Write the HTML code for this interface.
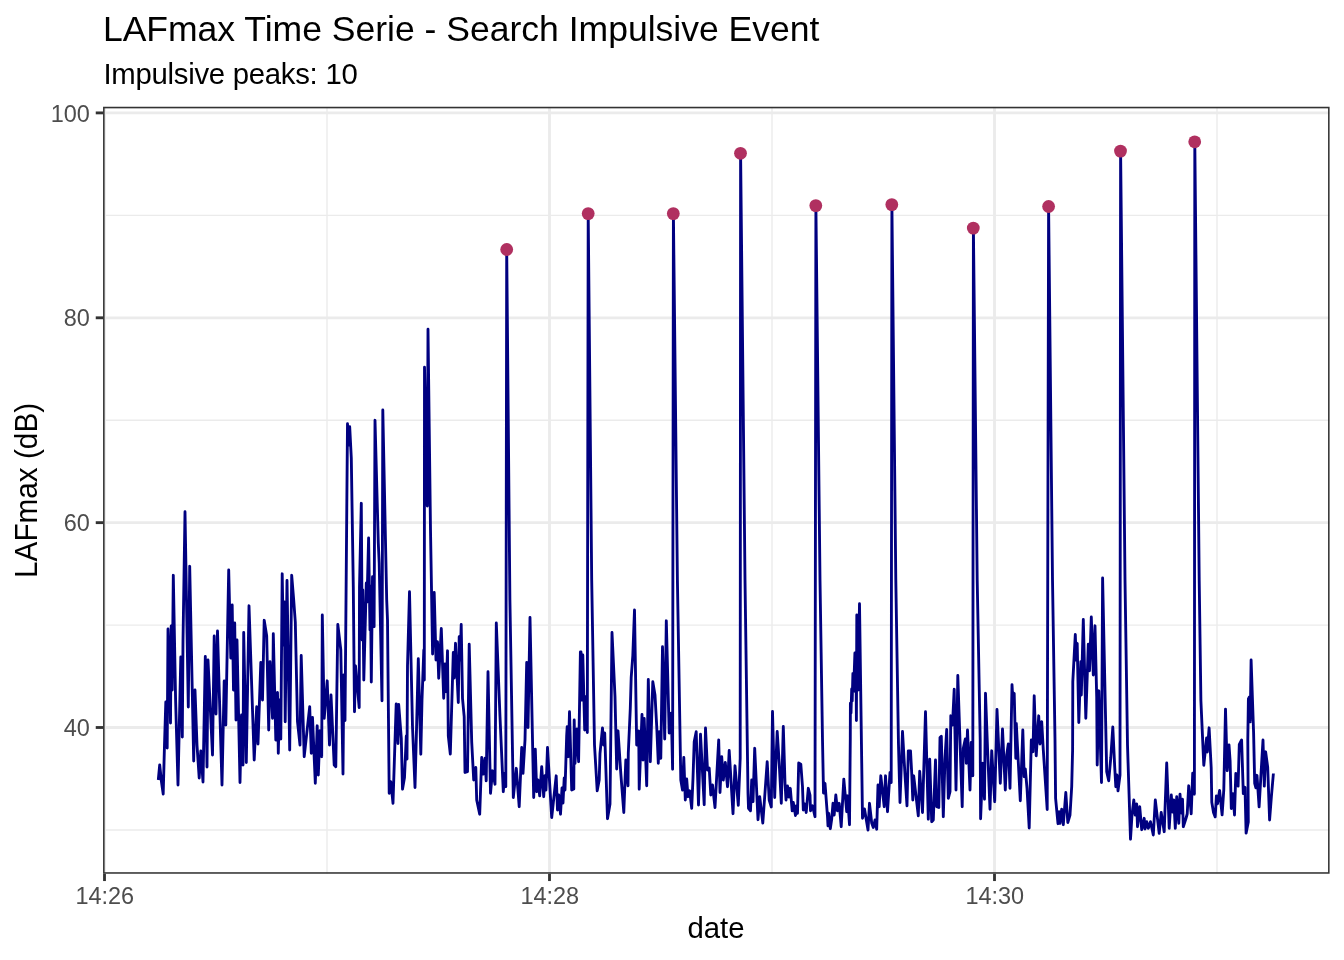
<!DOCTYPE html>
<html><head><meta charset="utf-8"><title>LAFmax Time Serie</title>
<style>html,body{margin:0;padding:0;background:#fff;}svg{display:block;}text{font-family:"Liberation Sans",sans-serif;}svg{will-change:transform;}</style></head><body>
<svg width="1344" height="960" viewBox="0 0 1344 960">
<rect x="0" y="0" width="1344" height="960" fill="#ffffff"/>
<clipPath id="pc"><rect x="103.05" y="106.8" width="1226.55" height="766.95"/></clipPath>
<g clip-path="url(#pc)">
<line x1="103.05" x2="1329.6" y1="215.35" y2="215.35" stroke="#EBEBEB" stroke-width="1.42"/>
<line x1="103.05" x2="1329.6" y1="420.2" y2="420.2" stroke="#EBEBEB" stroke-width="1.42"/>
<line x1="103.05" x2="1329.6" y1="625.1" y2="625.1" stroke="#EBEBEB" stroke-width="1.42"/>
<line x1="103.05" x2="1329.6" y1="829.95" y2="829.95" stroke="#EBEBEB" stroke-width="1.42"/>
<line y1="106.8" y2="873.75" x1="327.0" x2="327.0" stroke="#EBEBEB" stroke-width="1.42"/>
<line y1="106.8" y2="873.75" x1="772.0" x2="772.0" stroke="#EBEBEB" stroke-width="1.42"/>
<line y1="106.8" y2="873.75" x1="1217.0" x2="1217.0" stroke="#EBEBEB" stroke-width="1.42"/>
<line x1="103.05" x2="1329.6" y1="112.9" y2="112.9" stroke="#EBEBEB" stroke-width="2.85"/>
<line x1="103.05" x2="1329.6" y1="317.8" y2="317.8" stroke="#EBEBEB" stroke-width="2.85"/>
<line x1="103.05" x2="1329.6" y1="522.65" y2="522.65" stroke="#EBEBEB" stroke-width="2.85"/>
<line x1="103.05" x2="1329.6" y1="727.5" y2="727.5" stroke="#EBEBEB" stroke-width="2.85"/>
<line y1="106.8" y2="873.75" x1="104.5" x2="104.5" stroke="#EBEBEB" stroke-width="2.85"/>
<line y1="106.8" y2="873.75" x1="549.5" x2="549.5" stroke="#EBEBEB" stroke-width="2.85"/>
<line y1="106.8" y2="873.75" x1="994.5" x2="994.5" stroke="#EBEBEB" stroke-width="2.85"/>
<path d="M158.3,780.0 L159.7,765.0 L161.5,782.0 L163.2,794.0 L164.5,745.0 L165.8,702.0 L167.2,748.0 L168.0,629.0 L169.2,660.0 L170.5,723.0 L171.2,626.0 L172.2,690.0 L173.3,575.3 L175.6,700.0 L178.0,785.0 L180.8,657.0 L182.3,737.0 L183.0,641.0 L185.0,511.7 L188.3,707.0 L189.7,566.3 L193.7,761.0 L195.0,690.0 L197.0,745.0 L199.2,778.0 L200.8,751.0 L203.0,782.0 L205.3,656.5 L207.0,767.0 L208.0,660.0 L212.5,755.0 L214.2,636.0 L216.0,714.0 L217.5,631.0 L222.0,785.0 L224.2,681.0 L225.8,725.0 L228.7,570.0 L230.8,658.0 L232.2,605.0 L233.5,690.0 L234.7,623.0 L236.0,720.0 L237.0,640.0 L240.0,782.5 L241.5,715.0 L243.0,765.0 L243.7,632.5 L246.3,762.5 L249.0,605.8 L254.2,760.0 L256.7,706.7 L258.0,744.0 L260.8,662.5 L262.5,700.0 L264.2,620.3 L266.7,636.0 L268.7,730.0 L270.0,661.7 L272.5,718.3 L273.3,633.7 L275.8,740.0 L277.5,692.5 L278.3,753.3 L279.5,700.0 L280.8,739.0 L282.2,573.8 L283.4,645.0 L284.4,602.0 L285.2,721.7 L287.0,580.5 L289.7,750.0 L291.7,575.3 L293.7,600.0 L295.3,622.0 L297.5,721.7 L300.0,745.0 L301.2,655.5 L304.2,756.7 L309.7,706.7 L311.3,753.3 L312.5,717.5 L315.3,783.3 L317.2,725.8 L318.3,775.0 L320.0,730.8 L321.7,756.7 L322.3,615.0 L324.2,718.3 L327.2,680.8 L329.5,745.0 L331.0,695.0 L334.2,765.0 L335.8,766.7 L337.8,624.5 L340.8,650.0 L343.0,774.0 L343.8,675.0 L345.0,720.5 L347.5,423.7 L348.6,445.0 L349.7,426.7 L351.3,458.0 L353.3,587.0 L354.5,711.7 L355.5,666.0 L359.2,707.5 L359.5,587.0 L361.3,503.3 L362.2,640.0 L362.8,590.0 L363.8,680.0 L366.3,583.0 L367.0,602.0 L368.6,538.0 L370.0,630.0 L370.4,586.0 L371.3,682.0 L372.5,576.7 L374.1,626.7 L375.0,420.3 L378.3,543.0 L379.2,563.0 L382.0,700.8 L382.8,410.0 L386.7,600.0 L387.5,620.0 L389.2,793.3 L390.8,781.7 L393.0,803.3 L396.2,704.0 L398.0,743.5 L398.7,704.5 L401.3,738.3 L402.5,789.2 L404.5,777.5 L406.3,736.0 L407.0,759.0 L407.5,665.8 L409.5,591.7 L412.5,726.7 L415.0,787.5 L416.7,722.5 L418.3,658.7 L420.8,754.2 L422.0,700.0 L423.8,650.0 L424.3,680.0 L424.5,367.2 L427.3,506.0 L428.0,329.2 L430.5,530.0 L432.6,654.0 L434.2,592.5 L436.0,660.0 L437.5,641.7 L438.7,678.3 L441.3,628.5 L443.7,698.3 L445.0,664.0 L446.2,691.7 L447.5,650.8 L448.3,735.8 L450.3,754.0 L453.3,652.5 L454.2,678.0 L455.5,643.3 L458.3,702.5 L459.2,636.7 L460.2,660.0 L461.2,624.5 L462.5,698.3 L464.2,716.7 L465.0,772.5 L467.5,771.7 L469.2,644.2 L471.7,741.7 L473.7,780.0 L475.8,767.5 L476.7,800.0 L479.7,814.2 L481.7,757.5 L483.3,774.0 L485.0,758.3 L486.2,780.8 L488.0,671.7 L490.5,793.3 L492.5,770.8 L495.0,784.2 L496.3,623.0 L500.0,716.7 L503.3,791.7 L504.7,773.3 L505.8,786.7 L506.7,249.2 L509.9,600.0 L513.3,797.5 L516.3,768.3 L519.2,806.7 L521.7,747.5 L523.0,773.3 L525.0,740.0 L526.7,662.5 L528.0,727.5 L530.0,617.5 L533.7,797.5 L535.3,749.2 L536.7,791.7 L538.0,780.0 L539.7,795.8 L541.7,766.7 L543.7,796.7 L545.0,775.8 L546.0,790.0 L547.5,747.5 L551.7,817.5 L556.2,775.8 L557.5,810.0 L558.7,795.0 L560.5,814.2 L562.0,788.0 L563.0,803.0 L564.2,778.0 L565.0,790.0 L566.7,735.0 L567.2,726.7 L568.3,756.7 L569.5,711.7 L571.7,790.0 L573.8,789.0 L574.2,720.0 L575.0,763.3 L577.0,729.0 L578.6,761.7 L580.4,652.0 L581.0,652.0 L581.8,700.0 L582.8,655.0 L584.7,730.0 L585.8,696.7 L587.3,732.5 L588.2,213.3 L591.7,580.0 L594.5,745.0 L597.2,790.8 L599.2,780.0 L600.0,753.3 L602.5,728.0 L603.6,745.0 L604.7,733.0 L607.5,818.7 L610.0,804.0 L612.0,632.5 L615.0,696.7 L616.7,769.0 L618.0,730.8 L620.8,773.3 L623.8,812.5 L625.8,760.0 L628.0,785.8 L628.3,753.0 L630.3,708.3 L631.2,677.5 L632.8,655.8 L634.5,610.0 L636.7,745.0 L638.7,731.0 L639.2,789.2 L642.0,714.5 L643.0,760.0 L644.2,718.5 L646.7,785.8 L648.3,679.5 L650.3,761.7 L652.8,681.7 L655.0,695.0 L656.7,726.0 L658.3,763.3 L659.2,731.7 L660.8,758.3 L662.5,646.7 L664.7,739.0 L666.3,620.8 L669.2,733.0 L671.3,713.3 L672.6,769.2 L673.4,213.3 L677.4,580.0 L680.8,780.0 L682.5,790.0 L683.8,757.5 L685.3,800.0 L686.7,779.0 L688.0,796.7 L689.7,790.8 L691.7,808.3 L693.0,778.3 L694.2,741.7 L696.2,731.7 L697.5,773.3 L698.5,805.0 L700.5,734.2 L704.2,804.7 L705.5,728.0 L707.5,770.0 L709.2,768.0 L710.8,795.0 L712.5,785.0 L715.0,807.5 L718.7,740.0 L720.0,792.5 L721.7,756.7 L723.3,780.0 L725.3,762.5 L727.5,786.7 L729.2,750.5 L733.0,813.7 L735.0,765.8 L738.3,805.3 L740.2,758.3 L740.6,153.0 L745.0,580.0 L748.0,793.3 L748.5,808.3 L750.5,810.8 L751.7,780.0 L753.0,801.7 L754.7,748.3 L758.0,819.7 L759.7,796.7 L762.8,823.0 L765.0,792.5 L767.2,761.7 L769.2,800.0 L771.3,807.0 L772.5,711.5 L774.7,797.5 L775.5,771.7 L777.2,731.5 L779.2,763.0 L781.3,803.3 L783.3,726.5 L785.0,783.0 L786.0,800.0 L787.5,786.0 L789.0,797.0 L790.3,788.3 L792.2,810.8 L793.3,802.5 L795.5,815.5 L796.3,806.0 L797.5,813.3 L798.7,763.0 L800.8,764.2 L802.5,786.7 L803.3,810.0 L804.7,804.0 L806.2,812.5 L808.3,788.3 L810.0,795.0 L810.5,810.8 L812.5,805.8 L815.0,816.7 L815.9,205.3 L820.0,580.0 L822.5,740.0 L823.3,781.7 L823.5,793.0 L825.0,783.3 L827.5,816.7 L828.0,825.8 L828.7,813.3 L830.3,828.7 L831.7,819.0 L833.0,803.3 L834.2,815.0 L835.8,795.0 L837.5,810.8 L839.2,803.3 L841.2,826.7 L843.8,779.2 L846.7,811.7 L847.5,795.8 L849.5,824.7 L850.3,737.5 L850.4,703.3 L851.0,713.0 L851.7,689.0 L852.2,701.0 L852.9,673.5 L853.6,691.0 L854.9,653.0 L855.6,692.0 L856.0,660.0 L856.4,720.5 L856.8,615.0 L858.1,690.0 L859.5,603.7 L862.5,818.3 L864.5,809.0 L868.0,830.0 L869.5,803.3 L871.7,823.0 L873.3,827.5 L875.0,820.0 L876.7,829.2 L878.0,785.0 L879.2,806.7 L880.8,775.8 L884.2,806.7 L885.5,775.8 L887.5,811.7 L890.0,772.5 L891.2,782.5 L891.9,204.3 L895.8,580.0 L898.5,745.0 L900.0,802.5 L902.5,731.5 L905.0,775.0 L907.0,805.8 L908.3,750.8 L910.5,750.8 L911.7,773.0 L912.8,800.0 L913.7,775.8 L918.3,815.8 L919.7,771.3 L922.5,812.5 L925.5,711.7 L928.3,819.2 L929.7,759.2 L931.7,821.7 L933.3,820.0 L935.5,760.0 L936.7,806.7 L938.8,807.5 L940.0,737.5 L941.3,736.3 L943.3,816.7 L945.0,758.0 L946.7,729.5 L948.3,798.3 L950.0,791.7 L950.8,715.8 L952.5,725.0 L954.2,689.2 L956.0,790.0 L957.8,675.5 L962.2,806.7 L963.3,748.3 L965.3,739.0 L966.3,763.3 L967.5,730.0 L970.0,790.0 L971.2,742.5 L972.8,775.8 L973.4,227.8 L977.2,580.0 L980.2,740.0 L980.6,818.7 L982.8,763.3 L984.5,799.2 L985.5,693.3 L987.5,747.5 L990.0,809.2 L991.7,750.8 L994.7,801.7 L997.0,709.5 L1000.3,783.3 L1002.5,729.0 L1005.3,790.0 L1006.7,755.0 L1008.3,744.0 L1010.0,788.3 L1012.0,684.7 L1013.0,702.0 L1014.2,693.3 L1015.8,758.3 L1016.3,723.5 L1017.5,746.7 L1020.3,800.8 L1022.8,730.0 L1024.2,776.7 L1025.3,769.0 L1027.0,788.0 L1029.2,828.0 L1031.3,740.0 L1033.0,751.7 L1034.2,695.8 L1036.2,755.8 L1038.7,715.8 L1040.0,744.0 L1041.7,721.7 L1043.3,750.0 L1047.2,809.5 L1048.6,206.2 L1052.5,580.0 L1055.0,740.0 L1055.6,798.3 L1058.0,823.7 L1059.2,811.7 L1060.0,823.3 L1061.7,809.2 L1063.3,824.7 L1065.8,792.5 L1067.8,822.5 L1070.0,815.0 L1071.7,786.7 L1072.6,750.0 L1072.8,681.7 L1075.3,634.5 L1076.2,660.0 L1077.2,643.3 L1078.8,722.5 L1080.8,661.7 L1081.3,695.0 L1083.3,619.5 L1085.8,718.3 L1088.3,644.2 L1089.5,670.8 L1091.3,617.0 L1093.3,675.0 L1095.0,625.8 L1096.7,696.7 L1097.2,765.0 L1098.8,690.8 L1101.5,782.5 L1102.6,578.0 L1106.7,771.7 L1108.7,780.8 L1110.8,757.5 L1112.8,727.0 L1114.7,766.7 L1115.8,786.7 L1117.0,775.0 L1118.0,790.8 L1120.0,775.0 L1120.6,150.8 L1125.0,580.0 L1127.5,745.0 L1130.5,839.2 L1132.0,815.0 L1133.8,800.0 L1135.2,815.0 L1136.7,804.0 L1137.5,826.7 L1139.7,806.7 L1141.7,829.7 L1144.2,818.3 L1145.0,829.0 L1146.7,821.7 L1148.3,828.3 L1150.5,821.7 L1153.3,835.0 L1155.3,800.0 L1159.2,833.3 L1161.2,812.5 L1164.2,831.7 L1166.7,763.0 L1169.2,828.3 L1171.3,795.0 L1172.5,812.0 L1173.8,800.0 L1175.3,828.3 L1176.7,796.7 L1178.8,823.3 L1180.0,794.2 L1181.3,813.0 L1182.5,799.2 L1183.3,826.7 L1185.8,819.0 L1187.2,814.0 L1188.7,785.8 L1191.2,813.8 L1192.7,773.2 L1194.4,794.2 L1194.8,141.5 L1199.2,580.0 L1200.9,700.7 L1203.8,765.3 L1206.6,738.0 L1207.3,752.0 L1209.1,727.8 L1211.2,767.8 L1211.8,802.2 L1213.5,812.5 L1215.2,816.9 L1216.4,795.9 L1217.5,803.9 L1219.6,790.5 L1222.1,814.8 L1223.8,789.6 L1225.5,709.1 L1227.2,770.7 L1229.0,744.9 L1230.1,760.9 L1231.3,808.5 L1233.0,793.6 L1234.5,815.0 L1235.8,773.5 L1238.1,786.1 L1239.3,744.3 L1241.6,740.0 L1243.3,793.6 L1245.0,787.3 L1246.1,833.1 L1248.3,822.0 L1247.8,740.0 L1248.4,699.0 L1249.4,697.0 L1250.2,721.9 L1251.1,660.0 L1253.6,733.0 L1254.7,783.3 L1255.9,787.9 L1257.0,775.3 L1259.1,806.8 L1263.0,740.0 L1264.3,786.1 L1265.6,751.8 L1267.7,767.2 L1269.6,820.0 L1271.4,796.5 L1273.4,773.5" fill="none" stroke="#000080" stroke-width="2.85" stroke-linejoin="round" stroke-linecap="butt"/>
<circle cx="506.7" cy="249.5" r="6.4" fill="#B03060"/>
<circle cx="588.2" cy="213.6" r="6.4" fill="#B03060"/>
<circle cx="673.3" cy="213.6" r="6.4" fill="#B03060"/>
<circle cx="740.5" cy="153.3" r="6.4" fill="#B03060"/>
<circle cx="815.8" cy="205.6" r="6.4" fill="#B03060"/>
<circle cx="891.8" cy="204.6" r="6.4" fill="#B03060"/>
<circle cx="973.3" cy="228.1" r="6.4" fill="#B03060"/>
<circle cx="1048.6" cy="206.5" r="6.4" fill="#B03060"/>
<circle cx="1120.5" cy="151.1" r="6.4" fill="#B03060"/>
<circle cx="1194.7" cy="141.8" r="6.4" fill="#B03060"/>
<rect x="103.05" y="106.8" width="1226.55" height="766.95" fill="none" stroke="#333333" stroke-width="3.1"/>
</g>
<line x1="95.75" x2="103.05" y1="112.9" y2="112.9" stroke="#333333" stroke-width="2.85"/>
<line x1="95.75" x2="103.05" y1="317.8" y2="317.8" stroke="#333333" stroke-width="2.85"/>
<line x1="95.75" x2="103.05" y1="522.65" y2="522.65" stroke="#333333" stroke-width="2.85"/>
<line x1="95.75" x2="103.05" y1="727.5" y2="727.5" stroke="#333333" stroke-width="2.85"/>
<line y1="873.75" y2="881.05" x1="104.5" x2="104.5" stroke="#333333" stroke-width="2.85"/>
<line y1="873.75" y2="881.05" x1="549.5" x2="549.5" stroke="#333333" stroke-width="2.85"/>
<line y1="873.75" y2="881.05" x1="994.5" x2="994.5" stroke="#333333" stroke-width="2.85"/>
<text x="89.9" y="122.30" font-size="23.47" fill="#4D4D4D" text-anchor="end">100</text>
<text x="89.9" y="326.20" font-size="23.47" fill="#4D4D4D" text-anchor="end">80</text>
<text x="89.9" y="531.05" font-size="23.47" fill="#4D4D4D" text-anchor="end">60</text>
<text x="89.9" y="735.90" font-size="23.47" fill="#4D4D4D" text-anchor="end">40</text>
<text x="104.8" y="904.2" font-size="23.47" fill="#4D4D4D" text-anchor="middle">14:26</text>
<text x="549.8" y="904.2" font-size="23.47" fill="#4D4D4D" text-anchor="middle">14:28</text>
<text x="994.8" y="904.2" font-size="23.47" fill="#4D4D4D" text-anchor="middle">14:30</text>
<text x="102.9" y="41.0" font-size="35.52" fill="#000">LAFmax Time Serie - Search Impulsive Event</text>
<text x="103.4" y="84.2" font-size="29.33" fill="#000" letter-spacing="-0.27">Impulsive peaks: 10</text>
<text x="716.0" y="937.6" font-size="29.33" fill="#000" text-anchor="middle">date</text>
<text transform="translate(37.1,490.4) rotate(-90) scale(1.013,1.09)" font-size="29.33" fill="#000" text-anchor="middle">LAFmax (dB)</text>
</svg></body></html>
